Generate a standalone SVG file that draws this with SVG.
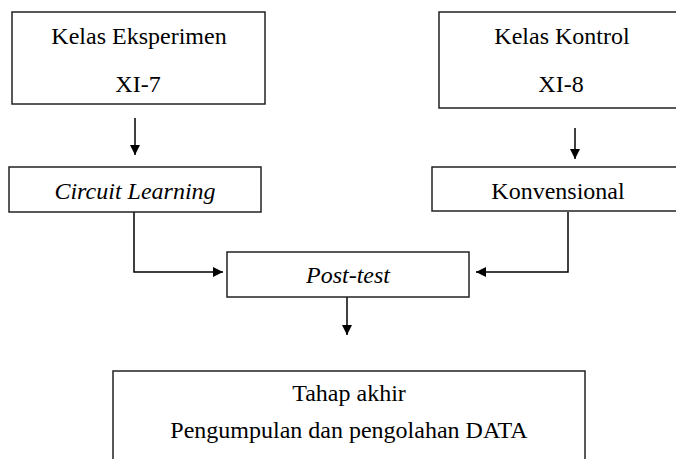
<svg xmlns="http://www.w3.org/2000/svg" width="676" height="459" viewBox="0 0 676 459">
<style>
.box{fill:#fff;stroke:#222;stroke-width:1.5}
.t{font-family:'Liberation Serif','Times New Roman','DejaVu Serif',serif;font-size:24px;fill:#000;text-anchor:middle}
.i{font-style:italic}
.c{fill:none;stroke:#000;stroke-width:1.5}
</style>
<defs>
<marker id="ah" viewBox="0 0 10 10" refX="10" refY="5" markerWidth="10" markerHeight="10" markerUnits="userSpaceOnUse" orient="auto">
<path d="M0,0 L10,5 L0,10 Z" fill="#000"/>
</marker>
</defs>
<rect width="676" height="459" fill="#fff"/>
<g id="connectors">
<line class="c" x1="135" y1="118" x2="135" y2="155" marker-end="url(#ah)"/>
<line class="c" x1="575" y1="128" x2="575" y2="159" marker-end="url(#ah)"/>
<polyline class="c" points="134,212 134,272 223,272" marker-end="url(#ah)"/>
<polyline class="c" points="568,212 568,272 476,272" marker-end="url(#ah)"/>
<line class="c" x1="347" y1="297" x2="347" y2="335" marker-end="url(#ah)"/>
</g>
<g id="kelas-eksperimen">
<rect class="box" x="12" y="12" width="253" height="92"/>
<text class="t" x="139" y="44" font-family="Liberation Serif, serif">Kelas Eksperimen</text>
<text class="t" x="138" y="92" font-family="Liberation Serif, serif">XI-7</text>
</g>
<g id="kelas-kontrol">
<rect class="box" x="439" y="12" width="245" height="96"/>
<text class="t" x="562" y="44">Kelas Kontrol</text>
<text class="t" x="561" y="92">XI-8</text>
</g>
<g id="circuit-learning">
<rect class="box" x="9" y="167" width="252" height="45"/>
<text class="t i" x="135" y="199">Circuit Learning</text>
</g>
<g id="konvensional">
<rect class="box" x="432" y="167" width="252" height="44"/>
<text class="t" x="558" y="199">Konvensional</text>
</g>
<g id="post-test">
<rect class="box" x="227" y="252" width="242" height="45"/>
<text class="t i" x="348" y="283">Post-test</text>
</g>
<g id="tahap-akhir">
<rect class="box" x="113" y="371" width="472" height="100"/>
<text class="t" x="349" y="401">Tahap akhir</text>
<text class="t" x="349" y="438">Pengumpulan dan pengolahan DATA</text>
</g>
</svg>
